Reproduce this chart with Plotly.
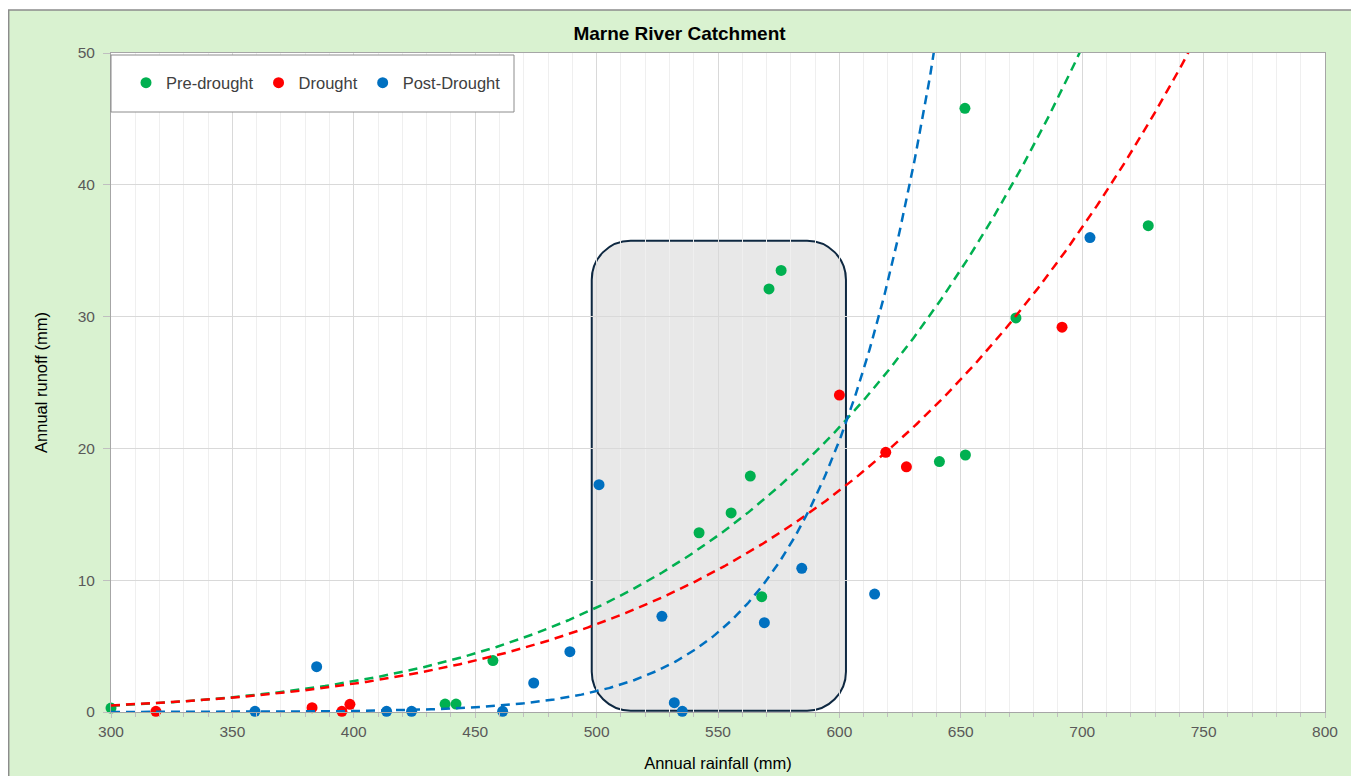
import numpy as np
import plotly.graph_objects as go

# ---------------- data ----------------
pre_x = [300.0, 437.6, 442.1, 457.3, 542.2, 555.4, 563.3, 568.0, 571.0, 576.0,
         641.2, 651.7, 651.9, 672.7, 727.2]
pre_y = [0.3, 0.6, 0.6, 3.9, 13.6, 15.1, 17.9, 8.75, 32.1, 33.5,
         19.0, 45.8, 19.5, 29.9, 36.9]

drought_x = [318.5, 382.8, 395.1, 398.4, 600.0, 619.1, 627.6, 691.7]
drought_y = [0.05, 0.33, 0.05, 0.58, 24.05, 19.7, 18.6, 29.2]

post_x = [359.3, 384.7, 413.5, 423.8, 461.3, 474.1, 489.0, 501.0, 526.9,
          532.0, 535.3, 569.1, 584.5, 614.5, 703.2]
post_y = [0.05, 3.44, 0.05, 0.05, 0.05, 2.2, 4.58, 17.25, 7.26,
          0.71, 0.05, 6.78, 10.9, 8.95, 36.0]

series_names = ["Pre-drought", "Drought", "Post-Drought"]
series_colors = ["#00b050", "#ff0000", "#0070c0"]

# power trendlines y = y_at_600 * (x / 600) ** exponent
trend_y_at_600 = [21.6, 16.8, 20.6]
trend_exponent = [5.5, 5.08, 14.1]

# highlighted rainfall window (rounded box)
box_x = [498.0, 602.7]
box_y = [0.1, 35.76]

x_range = [300, 800]
y_range = [0, 50]

FONT = "Liberation Sans, Arial, sans-serif"

fig = go.Figure()

for name, color, xs, ys in zip(series_names, series_colors,
                               [pre_x, drought_x, post_x],
                               [pre_y, drought_y, post_y]):
    fig.add_trace(go.Scatter(
        x=xs, y=ys, mode="markers", name=name,
        marker=dict(color=color, size=11, line=dict(width=0)),
        cliponaxis=False,
    ))

xt = np.linspace(x_range[0], x_range[1], 801)
for name, color, y600, n in zip(series_names, series_colors,
                                trend_y_at_600, trend_exponent):
    fig.add_trace(go.Scatter(
        x=xt, y=y600 * (xt / 600.0) ** n, mode="lines",
        line=dict(color=color, width=2.5, dash="9px,6px"),
        showlegend=False, hoverinfo="skip", name=name + " trend",
    ))

# rounded rectangle path in data coordinates
x0, x1 = box_x
y0, y1 = box_y
rx, ry = 16.0, 2.96
k = 0.5523
path = (
    f"M {x0+rx},{y0} L {x1-rx},{y0} "
    f"C {x1-rx+k*rx},{y0} {x1},{y0+ry-k*ry} {x1},{y0+ry} "
    f"L {x1},{y1-ry} "
    f"C {x1},{y1-ry+k*ry} {x1-rx+k*rx},{y1} {x1-rx},{y1} "
    f"L {x0+rx},{y1} "
    f"C {x0+rx-k*rx},{y1} {x0},{y1-ry+k*ry} {x0},{y1-ry} "
    f"L {x0},{y0+ry} "
    f"C {x0},{y0+ry-k*ry} {x0+rx-k*rx},{y0} {x0+rx},{y0} Z"
)

# page has an 8px body margin, so the figure is sized/offset to compensate
OFF = 8
W, H = 1359 - OFF, 776 - OFF
ml, mr, mt, mb = 111 - OFF, 34, 53 - OFF, 64
pw, ph = W - ml - mr, H - mt - mb


def px_x(p):  # screen px -> paper x
    return (p - OFF - ml) / pw


def px_y(p):  # screen px -> paper y
    return (H - mb - (p - OFF)) / ph


shapes = [
    # white strips outside the green chart frame
    dict(type="rect", xref="paper", yref="paper", x0=-1, x1=2, y0=px_y(10), y1=2,
         fillcolor="white", line=dict(width=0), layer="below"),
    dict(type="rect", xref="paper", yref="paper", x0=px_x(1352), x1=2, y0=-1, y1=2,
         fillcolor="white", line=dict(width=0), layer="below"),
    # frame border
    dict(type="rect", xref="paper", yref="paper", x0=px_x(8.7), x1=px_x(1352),
         y0=px_y(800), y1=px_y(10), line=dict(color="#8c8c8c", width=1.5),
         fillcolor="rgba(0,0,0,0)", layer="below"),
    # rounded highlight box
    dict(type="path", xref="x", yref="y", path=path, fillcolor="#e8e8e8",
         line=dict(color="#0e2841", width=2), layer="below"),
    # legend box
    dict(type="rect", xref="paper", yref="paper", x0=0, x1=px_x(514),
         y0=px_y(112), y1=px_y(55), fillcolor="white",
         line=dict(color="#8c8c8c", width=1), layer="above"),
]

axis_common = dict(
    showline=True, linecolor="#a6a6a6", linewidth=1, mirror=True,
    zeroline=False, ticks="outside", tickcolor="#bfbfbf", automargin=False,
    tickfont=dict(family=FONT, size=15.5, color="#595959"),
    gridcolor="#d9d9d9", gridwidth=1, showgrid=True,
)

fig.update_layout(
    width=W, height=H,
    margin=dict(l=ml, r=mr, t=mt, b=mb),
    paper_bgcolor="#d9f2d0", plot_bgcolor="white",
    font=dict(family=FONT, color="#000000"),
    title=dict(text="<b>Marne River Catchment</b>", x=(679.5 - OFF) / W,
               xref="container", xanchor="center",
               y=1 - (33 - OFF) / H, yanchor="middle",
               font=dict(family=FONT, size=19, color="#000000")),
    xaxis=dict(range=x_range, tick0=300, dtick=50, ticklen=5,
               minor=dict(dtick=10, showgrid=True, gridcolor="#efefef",
                          ticks="outside", ticklen=4, tickcolor="#bfbfbf"),
               title=dict(text="Annual rainfall (mm)", standoff=18,
                          font=dict(family=FONT, size=16.5, color="#000000")),
               **axis_common),
    yaxis=dict(range=y_range, tick0=0, dtick=10, ticklen=7,
               ticklabelstandoff=5,
               title=dict(text="Annual runoff (mm)", standoff=25,
                          font=dict(family=FONT, size=16.5, color="#000000")),
               **axis_common),
    legend=dict(orientation="h", x=px_x(126), y=px_y(83), xanchor="left",
                yanchor="middle", bgcolor="rgba(0,0,0,0)", borderwidth=0,
                font=dict(family=FONT, size=16.5, color="#404040")),
    shapes=shapes,
    showlegend=True,
)

fig.write_html("out.html")
